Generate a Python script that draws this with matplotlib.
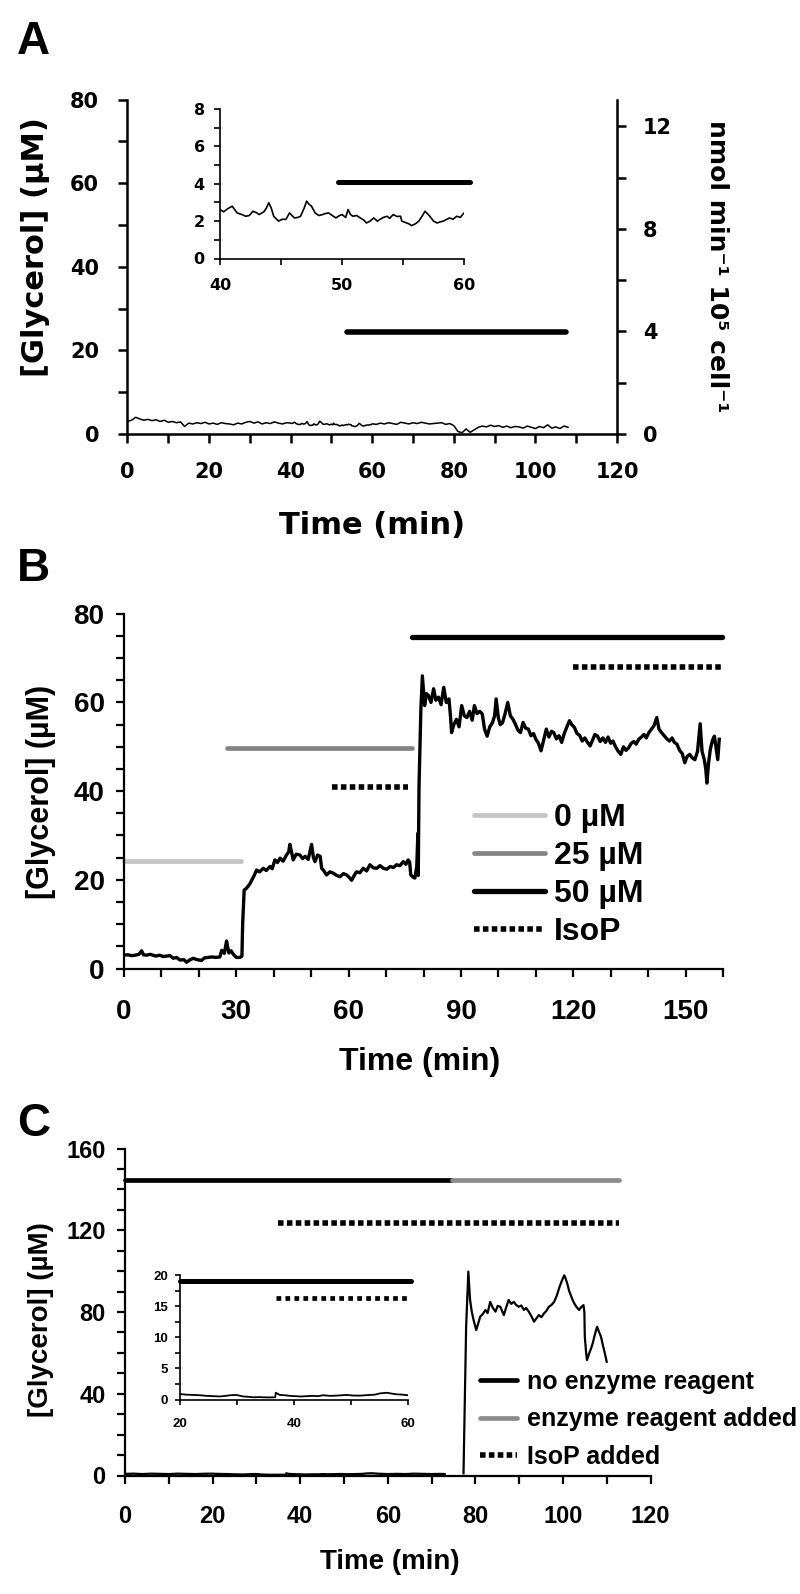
import numpy as np
import matplotlib
matplotlib.use('Agg')
import matplotlib.pyplot as plt
from matplotlib.ticker import MultipleLocator

plt.rcParams['font.family'] = ['Liberation Sans', 'DejaVu Sans']
plt.rcParams['font.weight'] = 'bold'

# ---------------- data ----------------
# panel A: basal glycerol, no drug
a_time = (list(range(0, 40))
          + [40.0, 40.3, 40.6, 41.0, 41.4, 41.8, 42.1, 42.4, 42.7, 43.0, 43.2, 43.6, 43.8, 44.0, 44.2,
             44.4, 44.8, 45.1, 45.4, 45.7, 45.9, 46.1, 46.4, 46.6, 46.9, 47.1, 47.3, 47.5, 47.8, 48.1,
             48.4, 48.6, 48.9, 49.2, 49.5, 49.8, 50.0, 50.3, 50.5, 50.7, 50.9, 51.2, 51.5, 51.8, 52.0,
             52.3, 52.6, 52.9, 53.1, 53.4, 53.7, 53.9, 54.2, 54.5, 54.8, 54.9, 55.3, 55.5, 55.7, 56.0,
             56.3, 56.6, 56.8, 57.0, 57.2, 57.5, 57.8, 58.0, 58.3, 58.6, 58.8, 59.1, 59.4, 59.7, 60.0]
          + list(range(61, 109)))
a_glycerol = ([3.0, 3.3, 4.0, 3.6, 3.3, 3.5, 3.2, 3.4, 3.0, 3.3, 2.8, 3.0, 2.7, 2.9, 1.8, 2.6, 2.4, 2.7,
               2.5, 2.8, 2.4, 2.6, 2.3, 2.7, 2.5, 2.4, 2.2, 2.6, 2.4, 2.8, 3.0, 2.6, 2.9, 2.4, 2.7, 2.5,
               2.9, 2.6, 2.4, 2.7]
              + [2.62, 2.5, 2.65, 2.8, 2.44, 2.35, 2.26, 2.3, 2.53, 2.45, 2.35, 2.5, 2.7, 2.98, 2.7,
                 2.26, 2.0, 2.1, 2.09, 2.44, 2.3, 2.17, 2.2, 2.26, 2.7, 3.07, 2.9, 2.8, 2.44, 2.3,
                 2.35, 2.4, 2.44, 2.3, 2.17, 2.3, 2.35, 2.2, 2.62, 2.35, 2.26, 2.3, 2.17, 2.05, 1.9,
                 2.0, 2.17, 2.0, 2.09, 2.2, 2.26, 2.15, 2.35, 2.25, 2.26, 2.0, 1.9, 1.85, 1.76, 1.85,
                 2.0, 2.3, 2.53, 2.4, 2.26, 2.0, 1.9, 1.95, 2.0, 2.1, 2.17, 2.1, 2.26, 2.2, 2.44]
              + [2.3, 2.6, 2.4, 2.7, 2.5, 2.3, 2.8, 2.6, 2.4, 2.7, 2.5, 2.8, 2.6, 2.4, 2.5, 2.6, 2.7,
                 2.3, 2.5, 2.0, 0.6, 0.3, 1.2, 0.4, 1.0, 1.6, 1.9, 1.7, 2.1, 1.8, 2.0, 1.6, 1.9, 1.5,
                 1.8, 1.7, 1.4, 1.9, 1.6, 1.3, 1.8, 1.5, 2.2, 1.4, 1.7, 1.3, 1.9, 1.6])
a_bar_main = ([53.7, 107.6], 24.4)
a_bar_inset = ([49.7, 60.5], 4.1)

# panel B: stepwise drug additions
b_time = [0, 1, 2, 3, 4, 4.7, 5.2, 6, 7, 7.8, 8.5, 9.5, 10.5, 11.5, 12.3, 13.2, 14, 15, 16, 16.7,
          17.5, 18.5, 19.5, 20.7, 21.5, 22.5, 23.5, 24.5, 25.6, 26.1, 26.8, 27.4, 28.0, 28.6, 29.2,
          30.0, 31.0, 31.5, 31.7, 32.1, 32.6, 33.2, 33.7, 34.1, 34.8, 35.4, 36.2, 37.2, 38.0, 39.0,
          39.6, 40.3, 41.0, 41.7, 42.5, 43.4, 44.0, 44.3, 44.8, 45.2, 46.0, 47.0, 47.7, 48.4, 49.2,
          50.1, 50.6, 51.0, 51.7, 52.4, 52.8, 53.4, 54.1, 55.0, 55.9, 56.8, 57.7, 58.6, 59.5, 60.2,
          60.8, 61.5, 62.1, 63.0, 63.9, 64.8, 65.7, 66.6, 67.5, 68.4, 69.3, 70.2, 71.1, 72.0, 72.8,
          73.7, 74.6, 75.3, 75.9, 76.3, 76.6, 77.2, 77.7, 78.2, 78.5, 78.6, 78.8, 79.3, 79.7, 80.3,
          80.8, 81.3, 82.0, 82.7, 83.3, 84.0, 84.7, 85.4, 86.1, 86.8, 87.2, 87.5, 88.1, 88.8, 89.5,
          90.2, 90.9, 91.6, 92.3, 93.0, 93.6, 94.3, 95.0, 95.7, 96.3, 97.0, 97.7, 98.4, 99.0, 99.4,
          100.0, 100.5, 101.1, 101.8, 102.5, 103.2, 103.9, 104.6, 105.2, 105.9, 106.6, 107.3, 108.0,
          108.7, 109.4, 110.0, 110.7, 111.4, 112.1, 112.8, 113.5, 114.2, 114.8, 115.5, 116.2, 116.9,
          117.6, 118.3, 119.0, 119.6, 120.3, 121.0, 121.7, 122.4, 123.1, 123.8, 124.5, 125.2, 125.8,
          126.5, 127.2, 127.9, 128.6, 129.3, 130.0, 130.6, 131.3, 132.0, 132.7, 133.4, 134.1, 134.8,
          135.5, 136.2, 136.8, 137.5, 138.2, 138.9, 139.5, 140.2, 140.9, 141.6, 142.3, 142.9, 143.6,
          144.3, 145.0, 145.7, 146.4, 147.0, 147.7, 148.4, 149.1, 149.8, 150.4, 151.1, 151.8, 152.5,
          153.2, 153.9, 154.4, 155.0, 155.4, 155.7, 156.1, 156.6, 157.2, 157.7, 158.2, 158.6, 159.0]
b_glycerol = [3.0, 3.1, 2.9, 3.0, 3.2, 4.0, 3.1, 3.0, 3.2, 3.0, 2.8, 3.0, 2.7, 2.8, 2.9, 2.3, 2.5,
              1.9, 2.0, 1.4, 1.9, 2.3, 2.0, 1.8, 2.4, 2.5, 2.6, 2.5, 2.6, 4.1, 3.4, 6.2, 3.5, 4.0, 3.2,
              2.5, 2.5, 2.8, 10.2, 17.7, 18.0, 18.6, 19.2, 19.9, 21.0, 22.2, 21.8, 22.6, 22.1, 23.0,
              22.5, 24.5, 23.9, 24.9, 24.2, 25.6, 26.3, 28.0, 26.0, 24.5, 25.8, 25.6, 24.8, 25.3, 24.6,
              28.0, 25.0, 24.1, 25.6, 25.3, 22.6, 22.0, 21.1, 21.8, 21.5, 21.0, 20.7, 21.4, 21.1, 20.5,
              19.9, 21.0, 21.8, 21.6, 22.6, 22.0, 23.4, 22.7, 22.6, 23.2, 22.6, 22.4, 23.0, 22.8, 23.4,
              23.2, 24.1, 23.5, 24.5, 24.0, 21.1, 20.6, 20.4, 23.0, 30.5, 21.0, 41.0, 58.5, 66.0, 59.3,
              62.0, 61.6, 60.0, 63.1, 60.5, 61.2, 59.5, 63.4, 60.0, 60.8, 57.0, 53.2, 55.0, 56.2, 54.5,
              59.3, 57.0, 56.6, 58.0, 56.0, 59.3, 57.5, 58.0, 57.4, 54.0, 52.4, 54.5, 55.4, 57.0, 60.8,
              56.5, 55.0, 55.4, 57.5, 60.0, 57.0, 56.2, 55.0, 53.8, 53.2, 55.5, 54.2, 54.0,
              52.5, 53.0, 51.7, 50.8, 49.1, 51.5, 54.0, 52.2, 53.5, 53.2, 51.8, 52.5, 51.0,
              53.0, 54.5, 55.9, 55.0, 54.4, 53.0, 52.6, 51.3, 52.0, 51.0, 50.2, 51.6, 52.8,
              52.4, 51.2, 52.0, 51.0, 52.2, 50.8, 51.3, 50.0, 49.0, 48.3, 50.0, 49.2, 49.8,
              50.8, 51.2, 50.6, 51.7, 52.2, 52.8, 52.0, 53.2, 54.0, 54.8, 56.6, 54.0, 53.2,
              52.5, 51.8, 51.3, 52.0, 51.0, 50.6, 49.2, 48.5, 46.4, 47.8, 48.3, 47.5, 47.1,
              49.0, 55.2, 49.0, 47.1, 45.0, 41.8, 46.0, 49.4, 51.5, 52.4, 49.5, 47.1, 51.7]
b_bar_0uM = ([0, 31.2], 24.2)
b_bar_25uM = ([27.5, 76.9], 49.8)
b_bar_50uM = ([77.0, 159.8], 74.7)
b_bar_isop1 = ([55.5, 75.9], 41.0)
b_bar_isop2 = ([119.8, 159.7], 68.0)
b_labels = ['0 µM', '25 µM', '50 µM', 'IsoP']

# panel C: enzyme reagent control
c_time = [0, 2, 4, 6, 8, 10, 12, 14, 16, 18, 20, 21, 22.3, 23.5, 24.7, 26, 27, 28, 28.8, 29.9, 31.1,
          32, 32.9, 34, 34.6, 35.6, 36.7, 36.8, 37.5, 38.4, 39.3, 40.2, 41.1, 42.2, 43.4, 44.2, 45.1,
          46.3, 47.5, 48.4, 49.2, 50.4, 51.6, 52.5, 53.3, 54.2, 55.1, 56.3, 57.2, 58.0, 59.0, 60.0,
          62, 64, 66, 68, 70, 72, 73, 75,
          77.3, 77.9, 78.4, 78.8, 79.2, 79.6, 80.2, 80.6, 81.1, 81.7, 82.3, 82.8, 83.4, 84.0, 84.6,
          85.1, 85.7, 86.1, 86.5, 87.0, 87.6, 88.2, 88.8, 89.3, 89.9, 90.5, 91.1, 91.6, 92.2, 92.8,
          93.4, 94.0, 94.5, 95.1, 95.7, 96.2, 96.8, 97.4, 98.0, 98.6, 99.1, 99.7, 100.3, 100.6, 101.0,
          101.4, 101.8, 102.2, 102.6, 103.1, 103.7, 104.2, 104.7, 104.9, 105.0, 105.3, 105.5, 106.0,
          106.4, 106.8, 107.3, 107.8, 108.2, 108.7, 109.1, 109.4, 109.7, 110.0]
c_glycerol = [0.8, 0.9, 0.7, 0.9, 0.8, 0.7, 0.9, 0.8, 0.7, 0.85, 0.9, 0.8, 0.75, 0.7, 0.6, 0.55, 0.5,
              0.6, 0.7, 0.75, 0.5, 0.45, 0.37, 0.4, 0.37, 0.35, 0.37, 1.1, 0.75, 0.7, 0.6, 0.55, 0.5,
              0.55, 0.6, 0.55, 0.7, 0.6, 0.64, 0.7, 0.75, 0.65, 0.64, 0.7, 0.75, 0.8, 1.0, 1.1, 0.95,
              0.85, 0.8, 0.7, 0.8, 0.7, 0.9, 0.8, 0.7, 0.8, 0.7, np.nan,
              1.1, 72.8, 99.8, 85.9, 80.0, 76.1, 71.2, 74.0, 77.7, 79.0, 81.0, 79.5, 85.0, 82.0, 80.2,
              83.0, 82.6, 80.5, 78.5, 82.0, 85.9, 84.0, 85.0, 83.5, 82.6, 83.2, 81.0, 82.0, 80.2, 78.0,
              75.3, 77.0, 78.5, 77.5, 79.4, 80.5, 82.6, 83.5, 85.0, 88.0, 91.5, 95.0, 98.0, 96.5, 93.9,
              90.5, 88.2, 86.0, 84.2, 82.5, 81.0, 82.5, 83.4, 80.0, 67.9, 60.0, 56.5, 59.8,
              62.0, 64.7, 69.0, 72.8, 70.5, 67.9, 64.0, 61.4, 58.5, 55.7]
c_bar_none = ([0, 74.6], 144.7)
c_bar_enzyme = ([74.6, 112.7], 144.7)
c_bar_isop = ([35.0, 112.8], 123.7)
c_inset_bar_none = ([20, 60.6], 19.0)
c_inset_bar_isop = ([36.8, 60.0], 16.3)
c_labels = ['no enzyme reagent', 'enzyme reagent added', 'IsoP added']

W, H = 800, 1594
DOT = (0, (1, 0.6))


def box(l, t, r, b):
    return [l / W, 1 - b / H, (r - l) / W, (b - t) / H]


def style(ax, size, lw, tl, padx, pady, fam='Liberation Sans'):
    for s in ('top', 'right'):
        ax.spines[s].set_visible(False)
    for s in ('left', 'bottom'):
        ax.spines[s].set_linewidth(lw)
    ax.tick_params(which='both', direction='out', length=tl, width=lw,
                   labelsize=size, labelfontfamily=fam)
    ax.tick_params(axis='x', which='both', pad=padx)
    ax.tick_params(axis='y', which='both', pad=pady)
    ax.patch.set_alpha(0)


def hbar(ax, span, y, color='black', lw=3.6, ls='-', **kw):
    return ax.plot(span, [y, y], color=color, lw=lw, ls=ls,
                   solid_capstyle='round', dash_capstyle='butt', clip_on=False, **kw)[0]


fig = plt.figure(figsize=(W / 100, H / 100), dpi=100)

# ---------------- panel A ----------------
axA = fig.add_axes(box(127.5, 99.5, 617, 434))
style(axA, 15, 1.8, 6.5, 14, 14, fam='DejaVu Sans')
axA.plot(a_time, a_glycerol, color='black', lw=1.1)
hbar(axA, a_bar_main[0], a_bar_main[1], lw=4)
axA.set_xlim(0, 120)
axA.set_ylim(0, 80)
axA.xaxis.set_major_locator(MultipleLocator(20))
axA.xaxis.set_minor_locator(MultipleLocator(10))
axA.yaxis.set_major_locator(MultipleLocator(20))
axA.yaxis.set_minor_locator(MultipleLocator(10))

axA2 = axA.twinx()
axA2.set_position(box(127.5, 99.5, 617, 434))
for s in ('top', 'left', 'bottom'):
    axA2.spines[s].set_visible(False)
axA2.spines['right'].set_linewidth(1.8)
axA2.set_ylim(0, 13.05)
axA2.yaxis.set_major_locator(MultipleLocator(4))
axA2.yaxis.set_minor_locator(MultipleLocator(2))
axA2.tick_params(which='both', direction='out', length=6.5, width=1.8, labelsize=15,
                 labelfontfamily='DejaVu Sans', pad=12)

axAi = fig.add_axes(box(220, 109, 464, 258.5))
style(axAi, 11.5, 1.2, 4, 10, 7, fam='DejaVu Sans')
axAi.plot(a_time, a_glycerol, color='black', lw=1.2)
hbar(axAi, a_bar_inset[0], a_bar_inset[1], lw=3.6)
axAi.set_xlim(40, 60)
axAi.set_ylim(0, 8)
axAi.xaxis.set_major_locator(MultipleLocator(10))
axAi.xaxis.set_minor_locator(MultipleLocator(5))
axAi.yaxis.set_major_locator(MultipleLocator(2))
axAi.yaxis.set_minor_locator(MultipleLocator(1))

fig.text(36 / W, 1 - 377 / H, '[Glycerol] (µM)', rotation=90, ha='center', va='bottom',
         family='DejaVu Sans', size=22)
fig.text(717 / W, 1 - 266 / H, 'nmol min⁻¹ 10⁵ cell⁻¹', rotation=-90, ha='center', va='center',
         family='DejaVu Sans', size=18)
fig.text(372 / W, 1 - 525 / H, 'Time (min)', ha='center', va='center',
         family='DejaVu Sans', size=22)

# ---------------- panel B ----------------
axB = fig.add_axes(box(124, 613.8, 723, 968.5))
style(axB, 20, 1.6, 6, 16, 8)
axB.plot(b_time, b_glycerol, color='black', lw=2.4)
h0 = hbar(axB, b_bar_0uM[0], b_bar_0uM[1], color='#c4c4c4', lw=3.4)
h25 = hbar(axB, b_bar_25uM[0], b_bar_25uM[1], color='#858585', lw=3.4)
h50 = hbar(axB, b_bar_50uM[0], b_bar_50uM[1], color='black', lw=3.8)
hiso = hbar(axB, b_bar_isop1[0], b_bar_isop1[1], lw=4, ls=DOT)
hbar(axB, b_bar_isop2[0], b_bar_isop2[1], lw=4, ls=DOT)
axB.set_xlim(0, 160)
axB.set_ylim(0, 80)
axB.xaxis.set_major_locator(MultipleLocator(30))
axB.xaxis.set_minor_locator(MultipleLocator(10))
axB.yaxis.set_major_locator(MultipleLocator(20))
axB.yaxis.set_minor_locator(MultipleLocator(5))
axB.legend([h0, h25, h50, hiso], b_labels, loc='center left', bbox_to_anchor=(0.585, 0.264),
           frameon=False, fontsize=23, handlelength=2.2, handletextpad=0.3,
           labelspacing=0.25, borderpad=0, borderaxespad=0)

fig.text(41 / W, 1 - 792 / H, '[Glycerol] (µM)', rotation=90, ha='center', va='center', size=22)
fig.text(420 / W, 1 - 1062 / H, 'Time (min)', ha='center', va='center', size=23)

# ---------------- panel C ----------------
axC = fig.add_axes(box(125, 1148.6, 650.5, 1475.5))
style(axC, 17, 1.6, 6, 15, 8)
axC.plot(c_time, c_glycerol, color='black', lw=1.6)
hn = hbar(axC, c_bar_none[0], c_bar_none[1], lw=3.4)
he = hbar(axC, c_bar_enzyme[0], c_bar_enzyme[1], color='#8c8c8c', lw=3.4)
hi = hbar(axC, c_bar_isop[0], c_bar_isop[1], lw=4, ls=DOT)
axC.set_xlim(0, 120)
axC.set_ylim(0, 160)
axC.xaxis.set_major_locator(MultipleLocator(20))
axC.xaxis.set_minor_locator(MultipleLocator(10))
axC.yaxis.set_major_locator(MultipleLocator(40))
axC.yaxis.set_minor_locator(MultipleLocator(10))
axC.legend([hn, he, hi], c_labels, loc='center left', bbox_to_anchor=(0.6755, 0.172),
           frameon=False, fontsize=18, handlelength=1.5, handletextpad=0.4,
           labelspacing=0.55, borderpad=0, borderaxespad=0)

axCi = fig.add_axes(box(180, 1275, 408, 1399.6))
style(axCi, 9.5, 1.2, 3.5, 10, 5)
axCi.plot(c_time, c_glycerol, color='black', lw=1.3)
hbar(axCi, c_inset_bar_none[0], c_inset_bar_none[1], lw=3.6)
hbar(axCi, c_inset_bar_isop[0], c_inset_bar_isop[1], lw=3.4, ls=(0, (1, 0.9)))
axCi.set_xlim(20, 60)
axCi.set_ylim(0, 20)
axCi.xaxis.set_major_locator(MultipleLocator(20))
axCi.xaxis.set_minor_locator(MultipleLocator(10))
axCi.yaxis.set_major_locator(MultipleLocator(5))
axCi.yaxis.set_minor_locator(MultipleLocator(2.5))

fig.text(41 / W, 1 - 1320 / H, '[Glycerol] (µM)', rotation=90, ha='center', va='center', size=20)
fig.text(390 / W, 1 - 1562 / H, 'Time (min)', ha='center', va='center', size=20)

# panel letters
for letter, yb in (('A', 54), ('B', 581), ('C', 1136)):
    fig.text(17 / W, 1 - yb / H, letter, ha='left', va='baseline', size=33)

fig.savefig('out.png', dpi=100)
